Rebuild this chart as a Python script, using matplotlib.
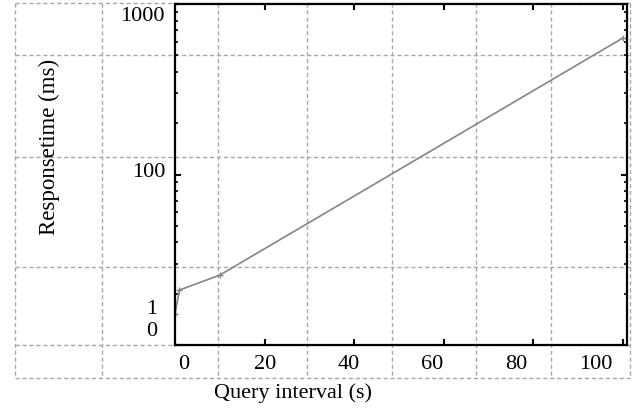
import matplotlib
matplotlib.use("Agg")
import matplotlib.pyplot as plt
from matplotlib.ticker import NullFormatter

plt.rcParams['font.family'] = ['Liberation Serif', 'DejaVu Serif']

# data
query_interval = [0, 1, 10, 100]
response_time = [15.2, 21, 25.7, 630]

x_ticks = [0, 20, 40, 60, 80, 100]
x_tick_labels = ['0', '20', '40', '60', '80', '100']
y_ticks = [10, 100, 1000]
y_tick_labels = ['1\n0', '100', '1000']

# where the labels sit in the screenshot (axes fraction), they drift off the ticks
x_label_pos = [0.02, 0.20, 0.385, 0.569, 0.755, 0.93]
y_label_pos = [0.073, 0.507, 0.962]

W, H = 637, 409
fig = plt.figure(figsize=(W / 100, H / 100), dpi=100)

# dashed table lines of the document behind the chart (pixel coords)
bg = fig.add_axes([0, 0, 1, 1])
bg.set_xlim(0, W)
bg.set_ylim(H, 0)
bg.axis('off')
grid_kw = dict(color='#a8a8a8', lw=1, ls=(0, (3, 2)))
for yy in [3, 55, 157, 267, 345, 378]:
    bg.plot([15, 630], [yy, yy], **grid_kw)
for xx in [15, 102, 218, 307, 392, 476, 551, 630]:
    bg.plot([xx, xx], [3, 378], **grid_kw)

ax = fig.add_axes([175 / W, (H - 345) / H, 452 / W, 341 / H])
ax.patch.set_alpha(0)
ax.plot(query_interval, response_time, color='#858585', lw=1.2,
        marker='+', ms=5, mew=1)

ax.set_yscale('log')
ax.set_xlim(0, 101)
ax.set_ylim(10, 1000)
ax.set_xticks(x_ticks)
ax.set_yticks(y_ticks)
ax.xaxis.set_major_formatter(NullFormatter())
ax.yaxis.set_major_formatter(NullFormatter())
ax.yaxis.set_minor_formatter(NullFormatter())
ax.tick_params(which='both', direction='in', top=True, right=True,
               labelbottom=False, labelleft=False, color='black')
ax.tick_params(which='major', length=4.5, width=1.5)
ax.tick_params(which='minor', length=2.5, width=1.2)
for s in ax.spines.values():
    s.set_linewidth(1.6)
    s.set_color('black')

fs = 16
for lab, fx in zip(x_tick_labels, x_label_pos):
    ax.text(fx, -0.058, lab, transform=ax.transAxes, ha='center', va='center',
            fontsize=fs)
for lab, fy in zip(y_tick_labels, y_label_pos):
    if '\n' in lab:
        ax.text(-0.051, fy, lab, transform=ax.transAxes, ha='center',
                va='center', fontsize=fs, linespacing=1.2)
    else:
        ax.text(-0.022, fy, lab, transform=ax.transAxes, ha='right',
                va='center', fontsize=fs)

ax.text(0.26, -0.142, 'Query interval (s)', transform=ax.transAxes,
        ha='center', va='center', fontsize=fs)
ax.text(-0.277, 0.58, 'Responsetime (ms)', transform=ax.transAxes,
        ha='center', va='center', rotation=90, fontsize=16.5)

fig.savefig('out.png', dpi=100)
